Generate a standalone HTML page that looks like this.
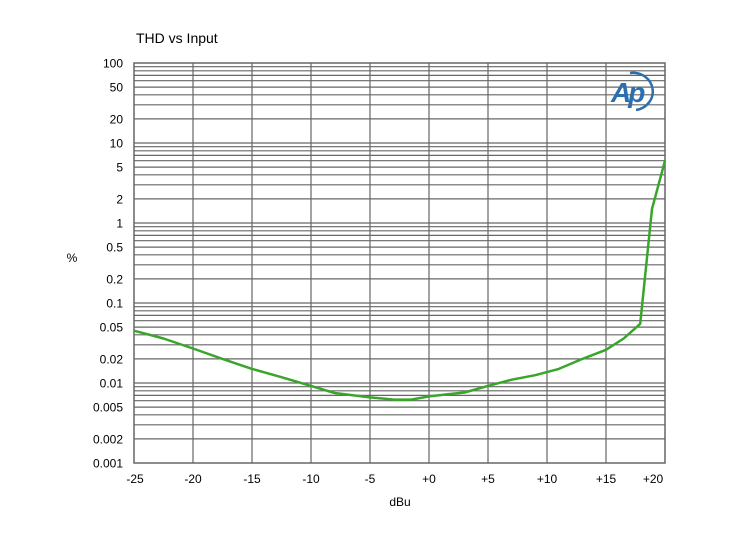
<!DOCTYPE html>
<html><head><meta charset="utf-8"><style>
body{margin:0;background:#fff;}
svg{display:block;font-family:"Liberation Sans",Arial,sans-serif;}
</style></head><body>
<svg id="s" width="743" height="541" viewBox="0 0 743 541" xmlns="http://www.w3.org/2000/svg"></svg>
<script>
var s=document.getElementById('s'),h='';
var L=134,R=665,T=63,B=463;
function X(v){return L+(v+25)*(R-L)/45;}
function Y(p){return T+(2-Math.log10(p))*80;}
h+='<text x="136" y="43" font-size="14" fill="#000">THD vs Input</text>';
for(var d=-3;d<2;d++){for(var m=1;m<=9;m++){var y=Y(m*Math.pow(10,d));if(m==1&&d==-3)continue;
h+='<line x1="'+L+'" x2="'+R+'" y1="'+y.toFixed(1)+'" y2="'+y.toFixed(1)+'" stroke="#666" stroke-width="1.2"/>';}}
for(var v=-20;v<20;v+=5){var x=X(v);h+='<line x1="'+x.toFixed(1)+'" x2="'+x.toFixed(1)+'" y1="'+T+'" y2="'+B+'" stroke="#666" stroke-width="1.2"/>';}
h+='<rect x="'+L+'" y="'+T+'" width="'+(R-L)+'" height="'+(B-T)+'" fill="none" stroke="#666" stroke-width="1.5"/>';
var yl=[[100,'100'],[50,'50'],[20,'20'],[10,'10'],[5,'5'],[2,'2'],[1,'1'],[0.5,'0.5'],[0.2,'0.2'],[0.1,'0.1'],[0.05,'0.05'],[0.02,'0.02'],[0.01,'0.01'],[0.005,'0.005'],[0.002,'0.002'],[0.001,'0.001']];
yl.forEach(function(a){h+='<text x="123" y="'+(Y(a[0])+4.5).toFixed(1)+'" font-size="12" text-anchor="end">'+a[1]+'</text>';});
var xl=[[-25,'-25',135],[-20,'-20'],[-15,'-15'],[-10,'-10'],[-5,'-5'],[0,'+0'],[5,'+5'],[10,'+10'],[15,'+15'],[20,'+20',653]];
xl.forEach(function(a){var x=a[2]||X(a[0]);h+='<text x="'+x.toFixed(1)+'" y="483" font-size="12" text-anchor="middle">'+a[1]+'</text>';});
h+='<text x="400" y="506" font-size="12" text-anchor="middle">dBu</text>';
h+='<text x="72" y="262" font-size="12" text-anchor="middle">%</text>';
var pts=[[-25,0.045],[-22.5,0.036],[-20,0.027],[-17.5,0.020],[-15,0.015],[-12.5,0.0118],[-10,0.0092],[-8,0.0075],[-5,0.0066],[-3,0.0062],[-1.5,0.0062],[0,0.0068],[1.5,0.0072],[3,0.0076],[5,0.0092],[7,0.011],[9,0.0125],[11,0.015],[13,0.02],[15,0.026],[16.5,0.036],[17.9,0.055],[18.9,1.5],[20,6]];
h+='<polyline fill="none" stroke="#3aa52b" stroke-width="2.5" stroke-linejoin="round" points="'+pts.map(function(p){return X(p[0]).toFixed(1)+','+Y(p[1]).toFixed(1);}).join(' ')+'"/>';
h+='<text x="611" y="102" font-size="28" font-style="italic" font-weight="bold" fill="#2a6fb0" letter-spacing="-3">Ap</text>';
h+='<path d="M630 73 A19 18 0 0 1 636 110" fill="none" stroke="#2a6fb0" stroke-width="2.5"/>';
s.innerHTML=h;
</script>
</body></html>
